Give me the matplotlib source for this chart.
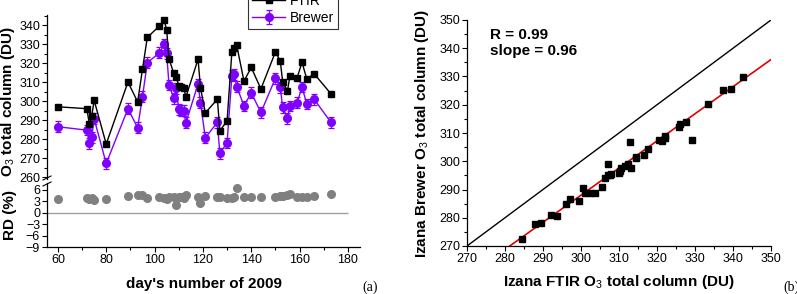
import numpy as np
import matplotlib
matplotlib.use("Agg")
import matplotlib.pyplot as plt
from matplotlib.lines import Line2D
from matplotlib.ticker import MultipleLocator

plt.rcParams['font.family'] = ['Liberation Sans', 'DejaVu Sans']
plt.rcParams['mathtext.fontset'] = 'custom'
plt.rcParams['mathtext.bf'] = 'Liberation Sans:bold'
plt.rcParams['mathtext.rm'] = 'Liberation Sans'

# Day of year 2009, FTIR and Brewer O3 total column (DU)
days = [60, 72, 73, 74, 75, 80, 89, 93, 95, 97, 102, 104, 105, 106, 108, 109,
        110, 111, 112, 113, 118, 119, 121, 126, 127, 130, 132, 133, 134, 137,
        140, 144, 150, 152, 153, 155, 156, 159, 161, 163, 166, 173]
ftir = [297.0, 296.0, 288.0, 292.0, 300.4, 277.4, 310.0, 299.6, 316.7, 333.5,
        339.5, 342.6, 337.4, 322.0, 314.6, 312.8, 308.0, 307.5, 307.0, 302.3,
        322.0, 307.0, 293.8, 301.0, 284.4, 289.5, 326.0, 327.7, 329.3, 310.5,
        317.7, 306.4, 325.8, 321.2, 310.2, 305.4, 313.2, 312.3, 320.4, 311.6,
        314.4, 303.8]
brewer = [286.5, 284.7, 277.7, 281.0, 290.7, 267.2, 296.0, 286.0, 302.3, 320.2,
          325.4, 329.8, 325.1, 308.4, 301.4, 306.7, 295.6, 295.0, 295.0, 288.6,
          309.0, 299.1, 280.7, 288.8, 272.5, 278.0, 313.3, 314.0, 307.6, 297.5,
          304.4, 294.0, 312.0, 307.3, 296.7, 291.0, 297.5, 299.1, 307.4, 298.4,
          301.0, 288.8]
brewer_err = 2.8

fit_slope = 0.96
fit_intercept = 0.0
stats_text = "R = 0.99\nslope = 0.96"

days = np.array(days)
ftir = np.array(ftir)
brewer = np.array(brewer)
rd = 100 * (ftir - brewer) / ftir

purple = '#8000ff'
W, H = 797, 294
fig = plt.figure(figsize=(W / 100, H / 100), dpi=100)

def rect(l, r, t, b):
    return [l / W, 1 - b / H, (r - l) / W, (b - t) / H]

ax_top = fig.add_axes(rect(47, 360, 15, 179))
ax_rd = fig.add_axes(rect(47, 360, 183, 247))
ax_sc = fig.add_axes(rect(467, 771, 20, 246))

xlim = (55.5, 185)

# --- O3 time series ---
ax_top.plot(days, ftir, '-s', color='black', ms=5, lw=1.0, label='FTIR', zorder=3)
ax_top.errorbar(days, brewer, yerr=brewer_err, fmt='-o', color=purple, ms=5.5, lw=1.0,
                elinewidth=0.9, capsize=2.5, capthick=0.9, label='Brewer', zorder=2)
ax_top.set_xlim(*xlim)
ax_top.set_ylim(259, 345.3)
ax_top.yaxis.set_major_locator(MultipleLocator(10))
ax_top.yaxis.set_minor_locator(MultipleLocator(5))
for s in ['top', 'right', 'bottom']:
    ax_top.spines[s].set_visible(False)
ax_top.set_xticks([])
ax_top.set_ylabel('O$_3$ total column (DU)', fontweight='bold', fontsize=11, labelpad=2)
ax_top.yaxis.set_label_coords(-0.095, 0.47)

leg = ax_top.legend(loc='lower right', bbox_to_anchor=(338 / W, 1 - 29 / H),
                    bbox_transform=fig.transFigure, fontsize=10, fancybox=False,
                    edgecolor='#333333', framealpha=1, handlelength=2.4,
                    borderpad=0.3, labelspacing=0.2, handletextpad=0.3, borderaxespad=0)
leg.get_frame().set_linewidth(0.8)

# --- relative difference ---
ax_rd.plot(days, rd, 'o', color='#808080', ms=5.5, zorder=3)
ax_rd.hlines(0, xlim[0], 180, color='#a0a0a0', lw=1.0)
ax_rd.set_xlim(*xlim)
ax_rd.set_ylim(-9, 7.8)
ax_rd.set_yticks([-9, -6, -3, 0, 3, 6])
ax_rd.xaxis.set_major_locator(MultipleLocator(20))
ax_rd.xaxis.set_minor_locator(MultipleLocator(10))
for s in ['top', 'right']:
    ax_rd.spines[s].set_visible(False)
ax_rd.set_ylabel('RD (%)', fontweight='bold', fontsize=11, labelpad=2)
ax_rd.yaxis.set_label_coords(-0.095, 0.5)
ax_rd.set_xlabel("day's number of 2009", fontweight='bold', fontsize=11, labelpad=8)

# axis break marks
for yb in (178, 184):
    fig.add_artist(Line2D([43 / W, 51 / W], [1 - (yb + 2) / H, 1 - (yb - 2) / H],
                          color='black', lw=0.8))

# --- scatter ---
ref = np.array([270, 350])
ax_sc.plot(ref, ref, color='black', lw=1.0)
ax_sc.plot(ref, fit_slope * ref + fit_intercept, color='#e00000', lw=1.2)
ax_sc.plot(ftir, brewer, 's', color='black', ms=4.5, zorder=3)
ax_sc.set_xlim(270, 350)
ax_sc.set_ylim(270, 350)
for a in (ax_sc.xaxis, ax_sc.yaxis):
    a.set_major_locator(MultipleLocator(10))
    a.set_minor_locator(MultipleLocator(5))
for s in ['top', 'right']:
    ax_sc.spines[s].set_visible(False)
ax_sc.set_xlabel('Izana FTIR O$_3$ total column (DU)', fontweight='bold', fontsize=11, labelpad=6)
ax_sc.set_ylabel('Izana Brewer O$_3$ total column (DU)', fontweight='bold', fontsize=11, labelpad=6)
ax_sc.text(0.075, 0.965, stats_text, transform=ax_sc.transAxes, fontsize=11,
           fontweight='bold', va='top', ha='left', linespacing=1.15)

for ax in (ax_top, ax_rd, ax_sc):
    ax.tick_params(which='major', length=3.5, width=0.8, labelsize=9, pad=1.5)
    ax.tick_params(which='minor', length=2, width=0.8)
    for s in ax.spines.values():
        s.set_linewidth(0.9)

fig.text(370 / W, 1 - 287 / H, '(a)', fontsize=10, family='Liberation Serif',
         ha='center', va='center')
fig.text(783 / W, 1 - 287 / H, '(b)', fontsize=10, family='Liberation Serif',
         ha='left', va='center')

fig.savefig('out.png', dpi=100)
